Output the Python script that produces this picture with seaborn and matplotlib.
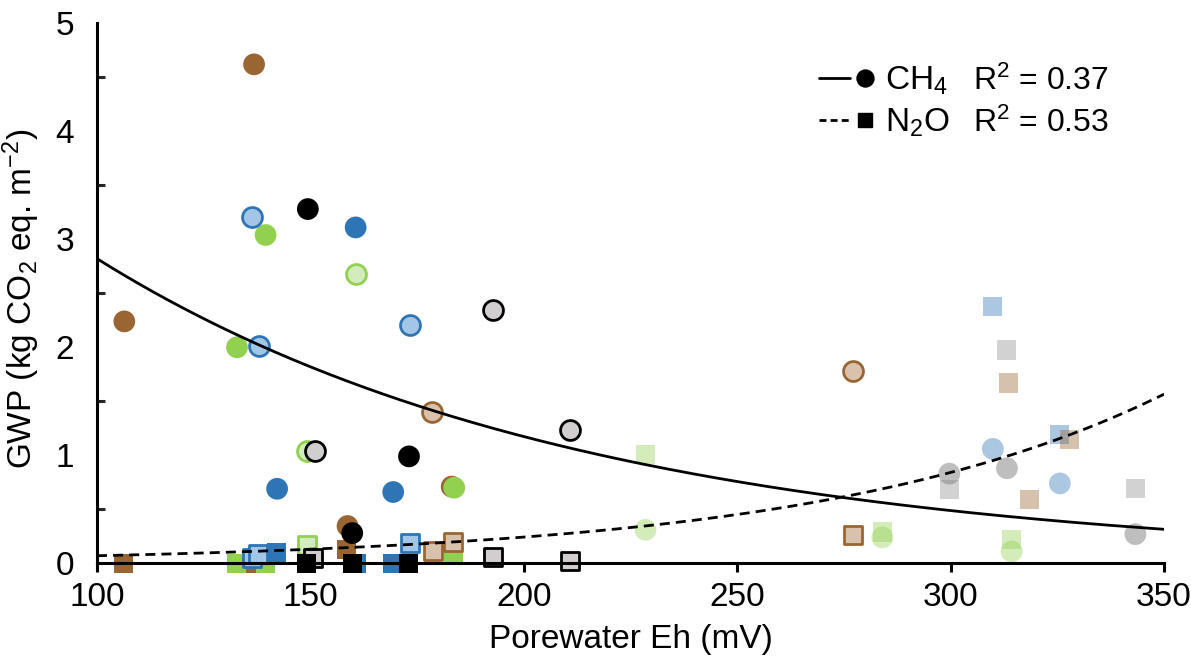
import numpy as np
import pandas as pd
import matplotlib
matplotlib.use("Agg")
import matplotlib.pyplot as plt
from matplotlib.lines import Line2D
import seaborn as sns

# ---------------- data ----------------
# CH4 (circles)
ch4_eh = [136.8, 106.4, 183.1, 158.7,
          160.6, 142.2, 169.4,
          139.5, 132.8, 183.7,
          149.4, 173.1, 159.8,
          136.4, 138.0, 173.3,
          160.8, 149.1,
          178.6, 277.2,
          192.9, 151.1, 210.8,
          228.5, 284.0, 314.3,
          309.9, 325.6,
          299.7, 313.2, 343.3]
ch4_gwp = [4.62, 2.24, 0.71, 0.345,
           3.11, 0.69, 0.66,
           3.04, 2.00, 0.70,
           3.28, 0.99, 0.28,
           3.21, 2.01, 2.21,
           2.68, 1.04,
           1.40, 1.78,
           2.345, 1.04, 1.23,
           0.31, 0.24, 0.11,
           1.06, 0.74,
           0.83, 0.88, 0.27]
ch4_group = (["brown"] * 4 + ["blue"] * 3 + ["green"] * 3 + ["black"] * 3 +
             ["blue"] * 3 + ["green"] * 2 + ["brown"] * 2 + ["black"] * 3 +
             ["green"] * 3 + ["blue"] * 2 + ["black"] * 3)
ch4_kind = (["solid"] * 13 + ["open"] * 10 + ["faded"] * 8)

# N2O (squares)
n2o_eh = [106.3, 136.0, 158.5,
          132.7, 139.5, 183.6, 160.7,
          142.1, 169.3, 160.9,
          149.1, 159.9, 172.9,
          136.2, 137.8, 173.3,
          149.1,
          150.7, 192.7, 210.8,
          178.7, 183.3, 277.2,
          228.5, 284.0, 314.3,
          309.8, 325.5,
          313.1, 299.7, 343.3,
          313.5, 327.8, 318.4]
n2o_gwp = [0.0, 0.0, 0.13,
           0.0, 0.0, 0.077, 0.0,
           0.10, 0.0, 0.0,
           0.0, 0.0, 0.0,
           0.046, 0.083, 0.185,
           0.17,
           0.046, 0.06, 0.02,
           0.114, 0.20, 0.26,
           1.01, 0.29, 0.22,
           2.38, 1.19,
           1.975, 0.685, 0.69,
           1.67, 1.15, 0.59]
n2o_group = (["brown"] * 3 + ["green"] * 4 + ["blue"] * 3 + ["black"] * 3 +
             ["blue"] * 3 + ["green"] + ["black"] * 3 + ["brown"] * 3 +
             ["green"] * 3 + ["blue"] * 2 + ["black"] * 3 + ["brown"] * 3)
n2o_kind = (["solid"] * 13 + ["open"] * 10 + ["faded"] * 11)

# exponential trend lines  y = a * exp(b * Eh)
ch4_fit = (6.78, -0.00877)
n2o_fit = (0.0202, 0.01243)
legend_labels = ["CH$_4$", "N$_2$O"]
legend_r2 = ["R$^2$ = 0.37", "R$^2$ = 0.53"]

x_ticks = [100, 150, 200, 250, 300, 350]
y_ticks = [0, 1, 2, 3, 4, 5]

# ---------------- style ----------------
sns.set_theme(style="white")
plt.rcParams["font.family"] = ["Liberation Sans", "DejaVu Sans"]
plt.rcParams["mathtext.fontset"] = "custom"
plt.rcParams["mathtext.rm"] = "Liberation Sans"
plt.rcParams["mathtext.it"] = "Liberation Sans:italic"
plt.rcParams["mathtext.bf"] = "Liberation Sans:bold"

base = {"brown": "#996633", "blue": "#2E75B6", "green": "#92D050", "black": "#000000"}
light = {"brown": "#D8C2AC", "blue": "#A3C5E6", "green": "#D3ECBD", "black": "#D0CECE"}
faded_circle = {"brown": ("#996633", 0.4), "blue": ("#2E75B6", 0.4),
                "green": ("#92D050", 0.4), "black": ("#7F7F7F", 0.5)}
faded_square = {"brown": ("#996633", 0.4), "blue": ("#2E75B6", 0.4),
                "green": ("#92D050", 0.4), "black": ("#A6A6A6", 0.5)}

df = pd.concat([
    pd.DataFrame({"eh": ch4_eh, "gwp": ch4_gwp, "grp": ch4_group,
                  "kind": ch4_kind, "gas": "CH4"}),
    pd.DataFrame({"eh": n2o_eh, "gwp": n2o_gwp, "grp": n2o_group,
                  "kind": n2o_kind, "gas": "N2O"}),
], ignore_index=True)

W, H = 1191, 663
fig = plt.figure(figsize=(W / 100, H / 100), dpi=100)
ax = fig.add_axes([97 / W, 1 - 563.3 / H, (1164 - 97) / W, (563.3 - 23.3) / H])

order = [("solid", "brown"), ("solid", "green"),
         ("open", "blue"), ("open", "green"), ("open", "brown"), ("open", "black"),
         ("solid", "blue"), ("solid", "black"),
         ("faded", "green"), ("faded", "blue"), ("faded", "black"), ("faded", "brown")]

z = 2
for gas, marker in [("N2O", "s"), ("CH4", "o")]:
    for kind, grp in order:
        sub = df[(df["gas"] == gas) & (df["kind"] == kind) & (df["grp"] == grp)]
        if sub.empty:
            continue
        kw = dict(data=sub, x="eh", y="gwp", marker=marker, ax=ax,
                  legend=False, clip_on=False, zorder=z)
        big = 245 if marker == "o" else 190
        small = 205 if marker == "o" else 155
        if kind == "solid":
            sns.scatterplot(**kw, s=big, color=base[grp], edgecolor="none", linewidth=0)
        elif kind == "open":
            sns.scatterplot(**kw, s=small, color=light[grp], edgecolor=base[grp],
                            linewidth=2.0)
        else:
            c, a = (faded_circle if marker == "o" else faded_square)[grp]
            sns.scatterplot(**kw, s=big, color=c, alpha=a, edgecolor="none", linewidth=0)
        z += 0.01

xs = np.linspace(100, 350, 300)
sns.lineplot(x=xs, y=ch4_fit[0] * np.exp(ch4_fit[1] * xs), ax=ax, color="black",
             lw=2.0, zorder=10)
ax.plot(xs, n2o_fit[0] * np.exp(n2o_fit[1] * xs), color="black", lw=2.0,
        ls=(0, (3.6, 2.2)), zorder=10)

ax.set_xlim(100, 350)
ax.set_ylim(0, 5)
ax.set_xticks(x_ticks)
ax.set_yticks(y_ticks)
ax.set_yticks(np.arange(0.5, 5, 1.0), minor=True)
sns.despine(ax=ax)
for s in ["left", "bottom"]:
    ax.spines[s].set_linewidth(2.2)
    ax.spines[s].set_color("black")
ax.tick_params(axis="y", which="major", direction="inout", length=13, width=2.2,
               labelsize=24, pad=10, colors="black")
ax.tick_params(axis="y", which="minor", direction="in", length=6, width=2.2,
               left=True)
ax.tick_params(axis="x", which="major", direction="out", length=6.5, width=2.2,
               labelsize=24, pad=7, colors="black", bottom=True)
ax.tick_params(axis="x", which="minor", bottom=False)

ax.set_xlabel("Porewater Eh (mV)", fontsize=24, color="black")
ax.set_ylabel("GWP (kg CO$_2$ eq. m$^{-2}$)", fontsize=24, color="black")
ax.xaxis.set_label_coords(0.5, -0.112)
ax.yaxis.set_label_coords(-0.052, 0.49)

# legend
def fx(px):
    return px / W

def fy(py):
    return 1 - py / H

rows = [(77.5, "-", "o", 12.2), (119.5, (0, (2.5, 1.5)), "s", 10.0)]
for (yc, ls, mk, ms), lab, r2 in zip(rows, legend_labels, legend_r2):
    fig.add_artist(Line2D([fx(819), fx(850)], [fy(yc), fy(yc)], color="black",
                          lw=2.0, ls=ls, transform=fig.transFigure))
    fig.add_artist(Line2D([fx(865)], [fy(yc)], color="black", marker=mk, ms=ms,
                          ls="none", transform=fig.transFigure))
    fig.text(fx(885), fy(yc + 12.5), lab, fontsize=24, va="baseline", ha="left",
             color="black")
    fig.text(fx(973), fy(yc + 12.5), r2, fontsize=23, va="baseline", ha="left",
             color="black")

fig.savefig("out.png", dpi=100, facecolor="white")
